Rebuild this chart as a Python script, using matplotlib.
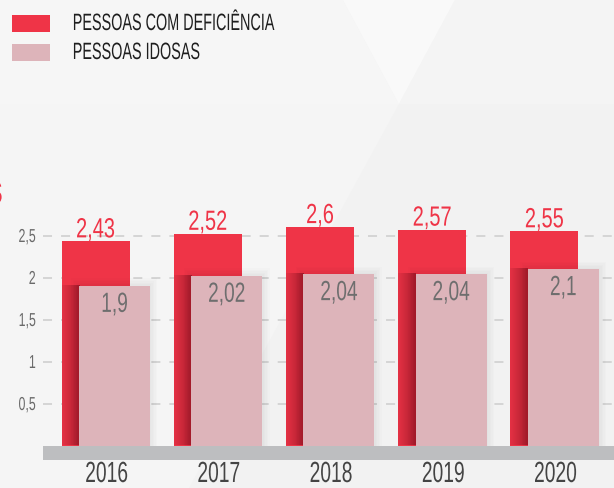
import numpy as np
import matplotlib.pyplot as plt
from matplotlib import patheffects
from matplotlib.colors import LinearSegmentedColormap
from matplotlib.patches import Polygon, Rectangle
from matplotlib.transforms import Affine2D

# dados do grafico
anos = ['2016', '2017', '2018', '2019', '2020']
deficiencia = [2.43, 2.52, 2.6, 2.57, 2.55]
idosos = [1.9, 2.02, 2.04, 2.04, 2.1]
y_ticks = [0.5, 1, 1.5, 2, 2.5]
y_labels = ['0,5', '1', '1,5', '2', '2,5']
legend_labels = ['PESSOAS COM DEFICIÊNCIA', 'PESSOAS IDOSAS']

RED = '#EF3447'
PINK = '#DDB4BA'
BG = '#F5F5F5'
W, H = 614, 488


class Narrow(patheffects.AbstractPathEffect):
    """aperta o texto na horizontal (imita a fonte condensada)"""

    def __init__(self, anchor='center', sx=0.66):
        super().__init__()
        self.anchor = anchor
        self.sx = sx

    def draw_path(self, renderer, gc, tpath, affine, rgbFace=None):
        ext = tpath.get_extents()
        x0 = {'left': ext.x0, 'center': 0.5 * (ext.x0 + ext.x1), 'right': ext.x1}[self.anchor]
        t = Affine2D().translate(-x0, 0).scale(self.sx, 1).translate(x0, 0)
        renderer.draw_path(gc, tpath, t + affine, rgbFace)


def fpx(x, y):
    # pixel da figura (origem em cima) -> fracao da figura
    return (x / W, 1 - y / H)


def fmt(v):
    return ('%g' % v).replace('.', ',')


plt.rcParams['font.family'] = ['Liberation Sans', 'DejaVu Sans']

fig = plt.figure(figsize=(W / 100, H / 100), dpi=100, facecolor=BG)

# fundo com formas geometricas claras
shapes = [
    ([(0, 0), (343, 0), (399, 104), (0, 104)], '#F6F6F6'),
    ([(343, 0), (455, 0), (399, 104)], '#F9F9F9'),
    ([(455, 0), (614, 0), (614, 104), (399, 104)], '#F4F4F4'),
    ([(399, 104), (614, 104), (614, 488), (189, 488)], '#F2F2F2'),
]
for pts, c in shapes:
    fig.add_artist(Polygon([fpx(*p) for p in pts], closed=True, transform=fig.transFigure,
                           facecolor=c, edgecolor='none', zorder=-2))

# legenda manual
for i, (label, c) in enumerate(zip(legend_labels, [RED, PINK])):
    y0 = 15 + 29 * i
    x0, y1 = fpx(12, y0 + 17)
    fig.add_artist(Rectangle((x0, y1), 38 / W, 17 / H, transform=fig.transFigure,
                             facecolor=c, edgecolor='none'))
    fig.text(*fpx(72, y0 + 9), label, fontsize=17, color='#1E1E1E', ha='left', va='center',
             path_effects=[Narrow('left', 0.61)])

# pedaco do titulo cortado na margem
fig.text(*fpx(3, 195), 'S', fontsize=22, color=RED, ha='right', va='center',
         path_effects=[Narrow('right')])

ax = fig.add_axes([43 / W, (H - 460) / H, (W - 43) / W, (460 - 150) / H])
ax.patch.set_visible(False)
for s in ax.spines.values():
    s.set_visible(False)

x = np.arange(len(anos))
red_off, red_w = -0.098, 0.606
pink_off, pink_w = 0.071, 0.633

ax.bar(x + red_off, deficiencia, width=red_w, color=RED, zorder=2, linewidth=0)

# sombra da barra rosa sobre a vermelha
shade = LinearSegmentedColormap.from_list('sombra', ['#E53144', '#AD1E2E'])
grad = np.linspace(0, 1, 64).reshape(1, -1)
for xi, v in zip(x, idosos):
    ax.imshow(grad, extent=(xi + red_off - red_w / 2, xi + pink_off - pink_w / 2, 0, v),
              aspect='auto', cmap=shade, zorder=3)

# sombra suave em volta das barras rosas
for k in range(1, 6):
    ax.bar(x + pink_off, np.array(idosos) + k * 1.5 / 84, width=pink_w + 2 * k * 1.5 / 112.2,
           color='black', alpha=0.013, zorder=3.5, linewidth=0)

ax.bar(x + pink_off, idosos, width=pink_w, color=PINK, zorder=4, linewidth=0)

ax.set_xlim(-0.566, 4.523)
ax.set_ylim(-14.5 / 84, 295.5 / 84)
ax.axhspan(-14.5 / 84, 0, color='#BDBEC0', zorder=5, linewidth=0)

for xi, v in zip(x, deficiencia):
    ax.annotate(fmt(v), (xi + red_off, v), xytext=(0, 4), textcoords='offset pixels',
                ha='center', va='baseline', fontsize=20, color=RED,
                path_effects=[Narrow('center', 0.72)], zorder=6)
for xi, v in zip(x, idosos):
    ax.annotate(fmt(v), (xi + pink_off, v), xytext=(0, -26), textcoords='offset pixels',
                ha='center', va='baseline', fontsize=20, color='#6E6E6E',
                path_effects=[Narrow('center', 0.69)], zorder=6)

ax.set_yticks(y_ticks, y_labels)
ax.set_xticks(x, anos)
ax.grid(axis='y', color='#D2D2D2', linestyle=(0, (5, 5)), linewidth=1.3)
ax.grid(axis='x', visible=False)
ax.set_axisbelow(True)
ax.tick_params(axis='y', length=0, pad=5, labelsize=13.5, labelcolor='#6A6A6A')
ax.tick_params(axis='x', length=0, pad=0, labelsize=21, labelcolor='#444444')
for t in ax.get_yticklabels():
    t.set_path_effects([Narrow('right')])
for t in ax.get_xticklabels():
    t.set_path_effects([Narrow('center')])

fig.savefig('out.png', dpi=100, facecolor=BG)
